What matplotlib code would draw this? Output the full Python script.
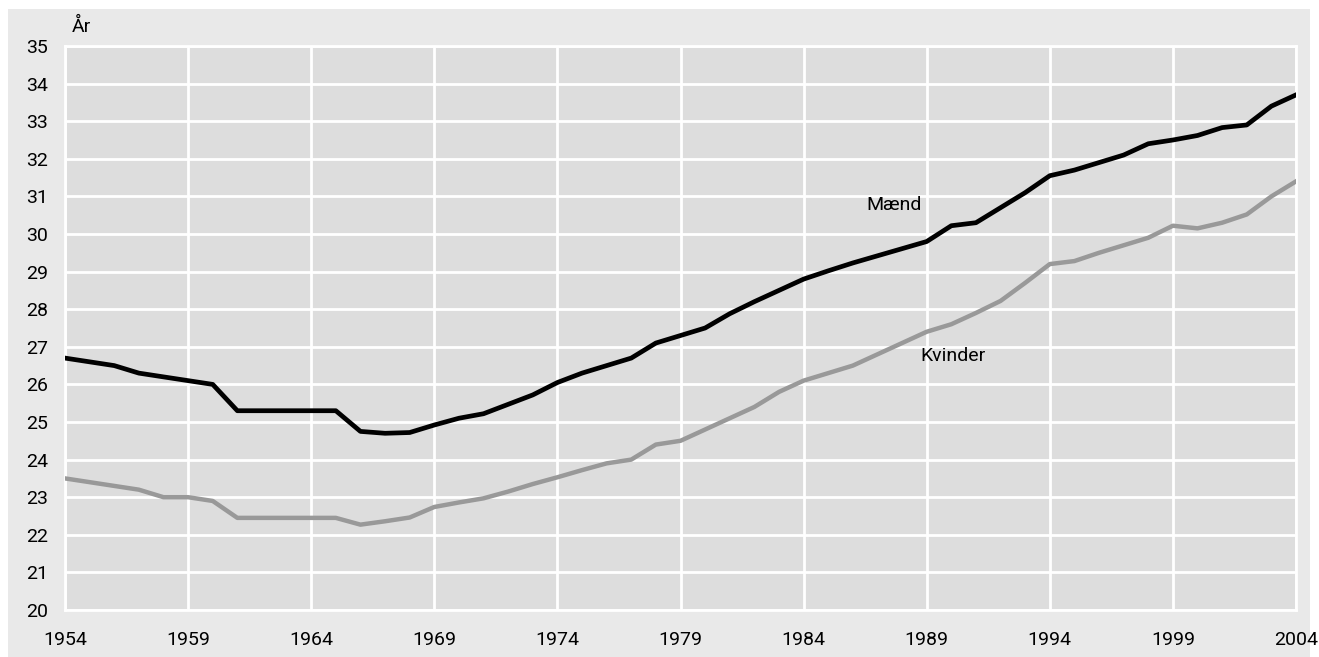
import matplotlib
matplotlib.use("Agg")
import matplotlib.pyplot as plt
from matplotlib.patches import Rectangle

# Data
years = list(range(1954, 2005))

maend = [26.7, 26.6, 26.5, 26.3, 26.2, 26.1, 26.0, 25.3, 25.3, 25.3,
         25.3, 25.3, 24.75, 24.7, 24.72, 24.92, 25.1, 25.22, 25.47, 25.72,
         26.05, 26.3, 26.5, 26.7, 27.1, 27.3, 27.5, 27.88, 28.2, 28.5,
         28.8, 29.02, 29.23, 29.42, 29.61, 29.8, 30.22, 30.3, 30.7, 31.1,
         31.55, 31.7, 31.9, 32.1, 32.4, 32.5, 32.62, 32.83, 32.9, 33.4,
         33.7]

kvinder = [23.5, 23.4, 23.3, 23.2, 23.0, 23.0, 22.9, 22.45, 22.45, 22.45,
           22.45, 22.45, 22.27, 22.36, 22.46, 22.74, 22.86, 22.97, 23.15, 23.35,
           23.53, 23.72, 23.9, 24.0, 24.4, 24.5, 24.8, 25.1, 25.4, 25.8,
           26.1, 26.3, 26.5, 26.8, 27.1, 27.4, 27.6, 27.9, 28.22, 28.7,
           29.2, 29.28, 29.5, 29.7, 29.9, 30.22, 30.15, 30.3, 30.52, 31.0,
           31.4]

x_ticks = list(range(1954, 2005, 5))
y_ticks = list(range(20, 36))

plt.rcParams["font.family"] = ["Roboto", "DejaVu Sans"]

W, H = 1319, 657
fig = plt.figure(figsize=(W / 100, H / 100), dpi=100, facecolor="white")

# light grey panel behind everything
fig.patches.append(Rectangle((8 / W, 0), (1310 - 8) / W, 1 - 9 / H,
                             transform=fig.transFigure, facecolor="#e9e9e9",
                             edgecolor="none", zorder=-5))

ax = fig.add_axes([65 / W, 1 - 610 / H, (1296 - 65) / W, (610 - 46) / H])
ax.set_facecolor("#dddddd")

ax.plot(years, kvinder, color="#999999", lw=3.2, solid_joinstyle="round", zorder=3)
ax.plot(years, maend, color="black", lw=3.4, solid_joinstyle="round", zorder=4)

ax.set_xlim(1954, 2004)
ax.set_ylim(20, 35)
ax.set_xticks(x_ticks)
ax.set_yticks(y_ticks)
ax.tick_params(length=0, labelsize=14, colors="black")
ax.tick_params(axis="y", pad=12)
ax.tick_params(axis="x", pad=15)
ax.grid(True, color="white", lw=2)
for s in ax.spines.values():
    s.set_visible(False)
ax.set_axisbelow(True)

# edge lines of the plot area, drawn like the grid
for xv in (1954, 2004):
    ax.axvline(xv, color="white", lw=2, zorder=1, clip_on=False)
for yv in (20, 35):
    ax.axhline(yv, color="white", lw=2, zorder=1, clip_on=False)

ax.text(1986.55, 30.77, "Mænd", fontsize=14, ha="left", va="center")
ax.text(1988.75, 26.76, "Kvinder", fontsize=14, ha="left", va="center")
fig.text(72 / W, 1 - 27 / H, "År", fontsize=14, ha="left", va="center")

fig.savefig("out.png", dpi=100, facecolor="white")
